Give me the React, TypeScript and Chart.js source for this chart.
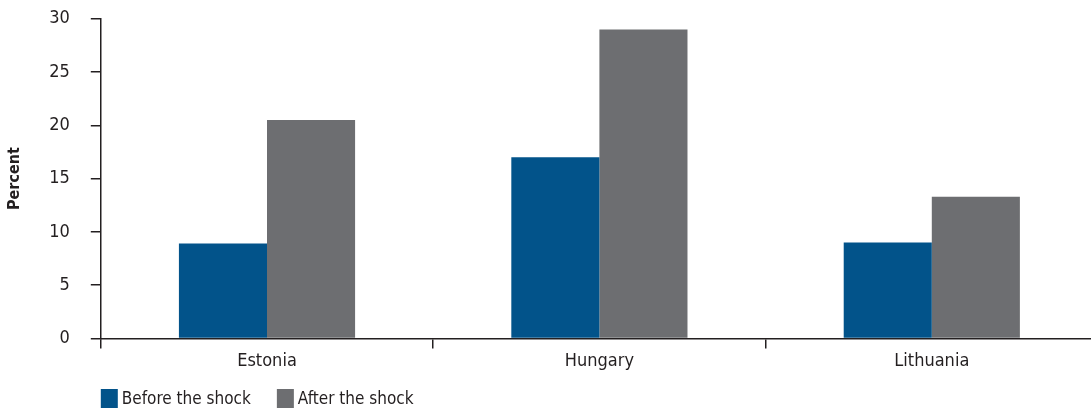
import React, { useEffect, useRef } from "react";
import { Chart, registerables } from "chart.js";

Chart.register(...registerables);

const categories = ["Estonia", "Hungary", "Lithuania"];
const beforeShock = [8.9, 17.0, 9.0];
const afterShock = [20.5, 29.0, 13.3];
const seriesNames = ["Before the shock", "After the shock"];
const yTicks = [0, 5, 10, 15, 20, 25, 30];

const FONT = "'DejaVu Sans Condensed', 'Liberation Sans Narrow', sans-serif";
const AXIS = "#231f20";
const TEXT = "#231f20";

const legendPlugin = {
  id: "customLegend",
  afterDraw(chart: any) {
    const ctx = chart.ctx;
    const area = chart.chartArea;
    ctx.save();
    ctx.font = `17px ${FONT}`;
    ctx.textBaseline = "middle";
    ctx.textAlign = "left";
    let x = area.left;
    const boxW = 17;
    const boxH = 19;
    const top = chart.height - boxH;
    chart.data.datasets.forEach((ds: any) => {
      ctx.fillStyle = ds.backgroundColor;
      ctx.fillRect(x, top, boxW, boxH);
      ctx.fillStyle = TEXT;
      const tx = x + boxW + 4;
      ctx.fillText(ds.label, tx, top + boxH / 2 + 1);
      x = tx + ctx.measureText(ds.label).width + 26;
    });
    ctx.restore();
  },
};

export default function App() {
  const ref = useRef<HTMLCanvasElement | null>(null);
  useEffect(() => {
    if (!ref.current) return;
    const chart = new Chart(ref.current, {
      type: "bar",
      data: {
        labels: categories,
        datasets: [
          { label: seriesNames[0], data: beforeShock, backgroundColor: "#02538a", categoryPercentage: 0.53, barPercentage: 1 },
          { label: seriesNames[1], data: afterShock, backgroundColor: "#6d6e71", categoryPercentage: 0.53, barPercentage: 1 },
        ],
      },
      plugins: [legendPlugin],
      options: {
        animation: false,
        responsive: false,
        maintainAspectRatio: false,
        layout: { padding: { top: 0, right: 0, left: 0, bottom: 34 } },
        plugins: {
          tooltip: { enabled: false },
          legend: { display: false },
        },
        scales: {
          x: {
            grid: { display: true, drawOnChartArea: false, drawTicks: true, tickLength: 10, color: AXIS, lineWidth: 1.5, offset: true },
            border: { display: true, color: AXIS, width: 1.5 },
            ticks: { color: TEXT, font: { family: FONT, size: 18 }, padding: 2 },
          },
          y: {
            min: 0,
            max: 30,
            afterBuildTicks: (axis: any) => {
              axis.ticks = yTicks.map((v) => ({ value: v }));
            },
            grid: { display: true, drawOnChartArea: false, drawTicks: true, tickLength: 10, color: AXIS, lineWidth: 1.5 },
            border: { display: true, color: AXIS, width: 1.5 },
            ticks: { color: TEXT, font: { family: FONT, size: 18 }, padding: 21 },
            title: { display: true, text: "Percent", color: TEXT, font: { family: FONT, size: 16, weight: "bold" }, padding: { top: 5, bottom: 4 } },
          },
        },
      },
    });
    return () => chart.destroy();
  }, []);
  return (
    <div style={{ position: "absolute", left: 0, top: 0, width: 1091, height: 408, overflow: "hidden" }}>
      <canvas ref={ref} width={1098} height={421} style={{ display: "block", marginTop: -13 }} />
    </div>
  );
}
